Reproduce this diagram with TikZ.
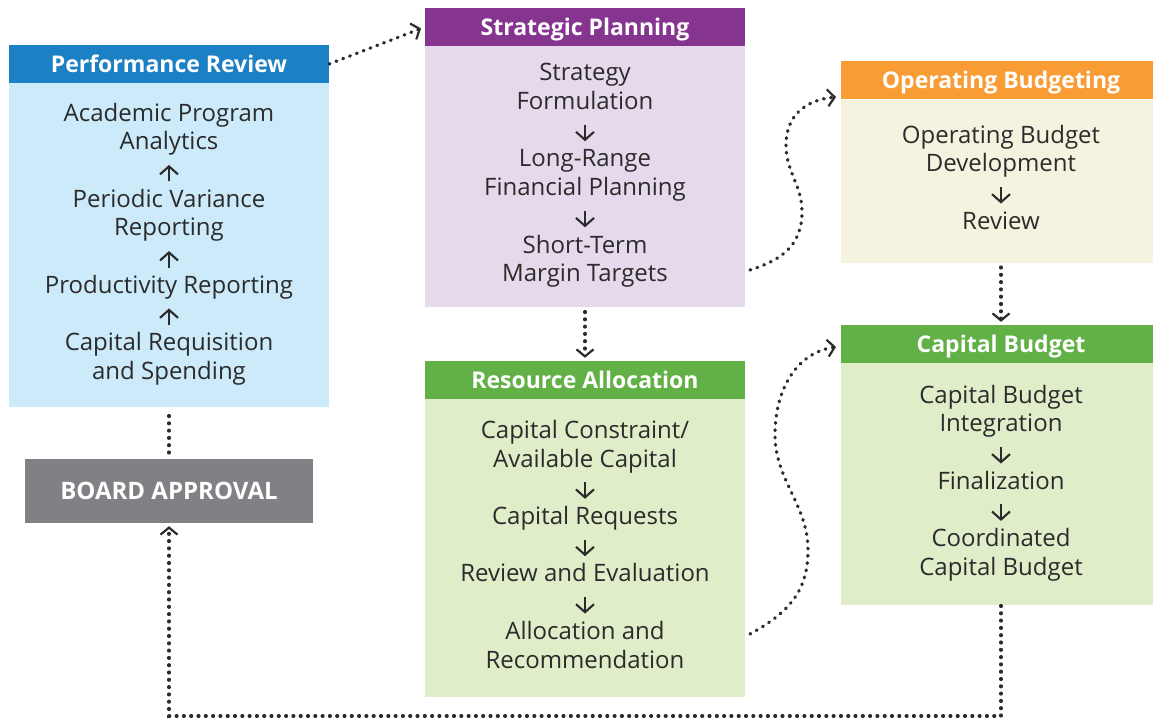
\documentclass[tikz,border=0pt]{standalone}
\usepackage{fontspec}
\setmainfont{Open Sans}
\usetikzlibrary{positioning,arrows.meta}
\definecolor{reviewblue}{RGB}{27,128,196}
\definecolor{reviewlight}{RGB}{204,234,249}
\definecolor{planpurple}{RGB}{133,52,143}
\definecolor{planlight}{RGB}{230,217,235}
\definecolor{operorange}{RGB}{248,156,51}
\definecolor{operlight}{RGB}{245,243,223}
\definecolor{capgreen}{RGB}{98,177,70}
\definecolor{caplight}{RGB}{223,237,201}
\definecolor{boardgray}{RGB}{128,129,132}
\definecolor{textdark}{RGB}{43,43,43}
\newcommand{\arrowdn}{\tikz[baseline=0pt,x=1pt,y=1pt]\draw[textdark,line width=2.1pt,
	-{Straight Barb[length=8pt,width=18pt]}] (0,13.5) -- (0,-3);}
\newcommand{\arrowup}{\tikz[baseline=0pt,x=1pt,y=1pt]\draw[textdark,line width=2.1pt,
	-{Straight Barb[length=8pt,width=18pt]}] (0,-3) -- (0,13.5);}
\newcommand{\makestage}[7]{
	\node[head, fill=#4] (#1-head) at (#2) {#3};
	\node[body, fill=#5, minimum height=#6, below=0pt of #1-head] (#1-body) {#7};
}
\tikzset{
	head/.style={minimum width=320pt, minimum height=38pt, inner sep=0pt, text=white,
		text height=17pt, text depth=0pt, font=\bfseries\fontsize{23}{28}\selectfont},
	body/.style={minimum width=320pt, inner sep=0pt, align=center, text=textdark,
		font=\fontsize{24}{28.7}\selectfont,
		execute at begin node=\strut, execute at end node=\strut},
	flow/.style={draw=textdark, line width=3.3pt, dash pattern=on 0.8pt off 6.5pt, line cap=round},
	flowtip/.style={-{Straight Barb[length=7pt,width=17pt,line width=2.2pt]}}
}

\begin{document}
\begin{tikzpicture}[x=1pt,y=-1pt]
	\useasboundingbox (0,0) rectangle (1153,719);
	\clip (0,0) rectangle (1153,719);

	\makestage{pr}{169,64}{Performance Review}{reviewblue}{reviewlight}{324pt}
		{Academic Program\\Analytics\\\arrowup\\Periodic Variance\\Reporting\\\arrowup\\Productivity Reporting\\\arrowup\\Capital Requisition\\and Spending}
	\makestage{sp}{585,27}{Strategic Planning}{planpurple}{planlight}{261pt}
		{Strategy\\Formulation\\\arrowdn\\Long-Range\\Financial Planning\\\arrowdn\\Short-Term\\Margin Targets}
	\makestage{ra}{585,380}{Resource Allocation}{capgreen}{caplight}{298pt}
		{Capital Constraint/\\Available Capital\\\arrowdn\\Capital Requests\\\arrowdn\\Review and Evaluation\\\arrowdn\\Allocation and\\Recommendation}
	\makestage{ob}{1001,80.5}{Operating Budgeting}{operorange}{operlight}{163pt}
		{Operating Budget\\Development\\\arrowdn\\Review}
	\makestage{cb}{1001,344}{Capital Budget}{capgreen}{caplight}{242pt}
		{Capital Budget\\Integration\\\arrowdn\\Finalization\\\arrowdn\\Coordinated\\Capital Budget}

	\node[head, fill=boardgray, minimum width=288pt, minimum height=64pt,
		font=\bfseries\fontsize{24}{28}\selectfont] (board) at (169,491) {BOARD APPROVAL};

	\coordinate (sp-out) at (750,270);
	\coordinate (ob-in) at (836,97);
	\coordinate (ra-out) at (750,634);
	\coordinate (cb-in) at (836,347);
	\coordinate (turn) at (1001,716);

	\draw[flow, flowtip, shorten >=4pt] (pr-head.east) -- (sp-head.west);
	\draw[flow, flowtip, shorten <=4pt, shorten >=3pt] (sp-body.south) -- (ra-head.north);
	\draw[flow, flowtip, shorten <=4pt, shorten >=3pt] (ob-body.south) -- (cb-head.north);
	\draw[flow, shorten <=8pt] (pr-body.south) -- (board.north);
	\draw[flow, flowtip, shorten >=3pt] (cb-body.south) -- (turn) -| (board.south);
	\draw[flow, flowtip] (sp-out) .. controls (782,260) and (802,245) .. (802,212)
		.. controls (802,185) and (786,172) .. (786,145)
		.. controls (786,115) and (806,100) .. (ob-in);
	\draw[flow, flowtip] (ra-out) .. controls (790,612) and (808,590) .. (808,550)
		.. controls (808,505) and (775,480) .. (775,435)
		.. controls (775,385) and (800,352) .. (cb-in);
\end{tikzpicture}
\end{document}
